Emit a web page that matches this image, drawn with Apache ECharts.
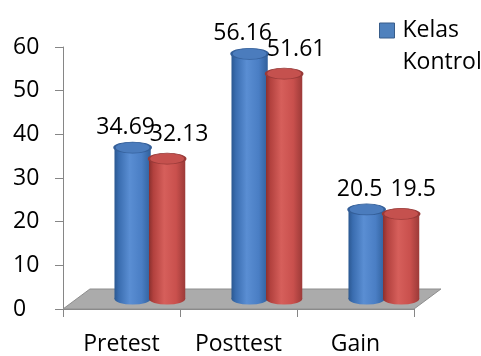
<!DOCTYPE html>
<html>
<head>
<meta charset="utf-8">
<script src="https://cdn.jsdelivr.net/npm/echarts@6/dist/echarts.min.js"></script>
<style>
html,body{margin:0;padding:0;background:#fff;}
#c{width:481px;height:356px;}
</style>
</head>
<body>
<div id="c"></div>
<script>
var categories = ['Pretest', 'Posttest', 'Gain'];
var kelasValues = [34.69, 56.16, 20.5];
var kontrolValues = [32.13, 51.61, 19.5];
var seriesNames = ['Kelas', 'Kontrol'];
var yTicks = { min: 0, max: 60, interval: 10 };

var FONT = '"Open Sans", sans-serif';
var chart = echarts.init(document.getElementById('c'), null, { renderer: 'canvas' });

function grad(stops) {
  return new echarts.graphic.LinearGradient(0, 0, 1, 0, stops.map(function (s) {
    return { offset: s[0], color: s[1] };
  }));
}
var styles = [
  {
    body: [[0, '#2B5891'], [0.12, '#3A6DB0'], [0.42, '#5A8ED3'], [0.75, '#4A7EC4'], [1, '#30609C']],
    top: '#4B7CBD', topStroke: '#345F99', labelDx: -7, labelDy: -20, offset: -0.02
  },
  {
    body: [[0, '#8A302E'], [0.12, '#B2413E'], [0.42, '#D65F5B'], [0.75, '#C9504D'], [1, '#9C3A38']],
    top: '#C5514E', topStroke: '#983A38', labelDx: 12, labelDy: -24, offset: 0.275
  }
];

function makeRender(si) {
  var st = styles[si];
  return function (params, api) {
    var idx = api.value(0), val = api.value(1);
    var bw = api.size([1, 0])[0];
    var base = api.coord([idx, 0]);
    var top = api.coord([idx, val]);
    var depthX = bw * 0.115, depthY = -10;
    var w = bw * 0.31;
    var cx = base[0] + st.offset * bw + depthX;
    var by = base[1] + depthY;
    var ty = top[1] + depthY;
    var r = w / 2, ry = 5.5;
    var label = String(val);
    return {
      type: 'group',
      children: [
        { type: 'circle', shape: { cx: 0, cy: 0, r: r }, x: cx, y: by, scaleY: ry / r,
          style: { fill: grad(st.body) } },
        { type: 'rect', shape: { x: cx - r, y: ty, width: w, height: by - ty },
          style: { fill: grad(st.body) } },
        { type: 'circle', shape: { cx: 0, cy: 0, r: r }, x: cx, y: ty, scaleY: ry / r,
          style: { fill: st.top, stroke: st.topStroke, lineWidth: 1.5 / (ry / r) * 0.5 } },
        { type: 'text', x: cx + st.labelDx, y: ty + st.labelDy, z2: 10,
          style: { text: label, fill: '#000', font: '23px ' + FONT, align: 'center', verticalAlign: 'middle' } }
      ]
    };
  };
}

function renderFloor(params, api) {
  var bw = api.size([1, 0])[0];
  var a = api.coord([0, 0]);
  var b = api.coord([categories.length - 1, 0]);
  var x0 = a[0] - bw / 2, x1 = b[0] + bw / 2, y = a[1];
  var dx = bw * 0.23, dy = -20;
  return {
    type: 'polygon',
    shape: { points: [[x0, y], [x1, y], [x1 + dx, y + dy], [x0 + dx, y + dy]] },
    style: { fill: '#ABABAB', stroke: '#8E8E8E', lineWidth: 1 }
  };
}

var option = {
  backgroundColor: '#fff',
  animation: false,
  textStyle: { fontFamily: FONT },
  grid: { left: 63, right: 67, top: 47, bottom: 46, containLabel: false },
  legend: {
    orient: 'vertical', left: 379, top: 19, itemWidth: 15, itemHeight: 15, itemGap: 9,
    padding: 0, icon: 'rect', selectedMode: false,
    textStyle: { fontSize: 23, color: '#000', fontFamily: FONT, padding: [0, 0, 0, 3] },
    data: [
      { name: seriesNames[0], itemStyle: { color: '#4F81BD', borderColor: '#385D8A', borderWidth: 1 } },
      { name: seriesNames[1], itemStyle: { color: 'rgba(0,0,0,0)', borderColor: 'rgba(0,0,0,0)', borderWidth: 0 } }
    ]
  },
  xAxis: {
    type: 'category', data: categories,
    axisLine: { show: true, lineStyle: { color: '#868686', width: 1 } },
    axisTick: { show: true, length: 8, lineStyle: { color: '#868686' }, alignWithLabel: false },
    axisLabel: { fontSize: 23, color: '#000', margin: 24, fontFamily: FONT },
    splitLine: { show: false }
  },
  yAxis: {
    type: 'value', min: yTicks.min, max: yTicks.max, interval: yTicks.interval,
    axisLine: { show: true, lineStyle: { color: '#868686', width: 1 } },
    axisTick: { show: true, length: 8, lineStyle: { color: '#868686' } },
    axisLabel: { fontSize: 23, color: '#000', margin: 50, align: 'left', fontFamily: FONT, padding: [13, 0, 0, 0] },
    splitLine: { show: false }
  },
  series: [
    { type: 'custom', name: '_floor', renderItem: renderFloor, data: [[0, 0]], z: 1, silent: true },
    { type: 'custom', name: seriesNames[0], renderItem: makeRender(0), z: 3,
      itemStyle: { color: '#4F81BD' },
      data: kelasValues.map(function (v, i) { return [i, v]; }), encode: { x: 0, y: 1 } },
    { type: 'custom', name: seriesNames[1], renderItem: makeRender(1), z: 4,
      itemStyle: { color: '#C0504D' },
      data: kontrolValues.map(function (v, i) { return [i, v]; }), encode: { x: 0, y: 1 } }
  ]
};
chart.setOption(option);
</script>
</body>
</html>
